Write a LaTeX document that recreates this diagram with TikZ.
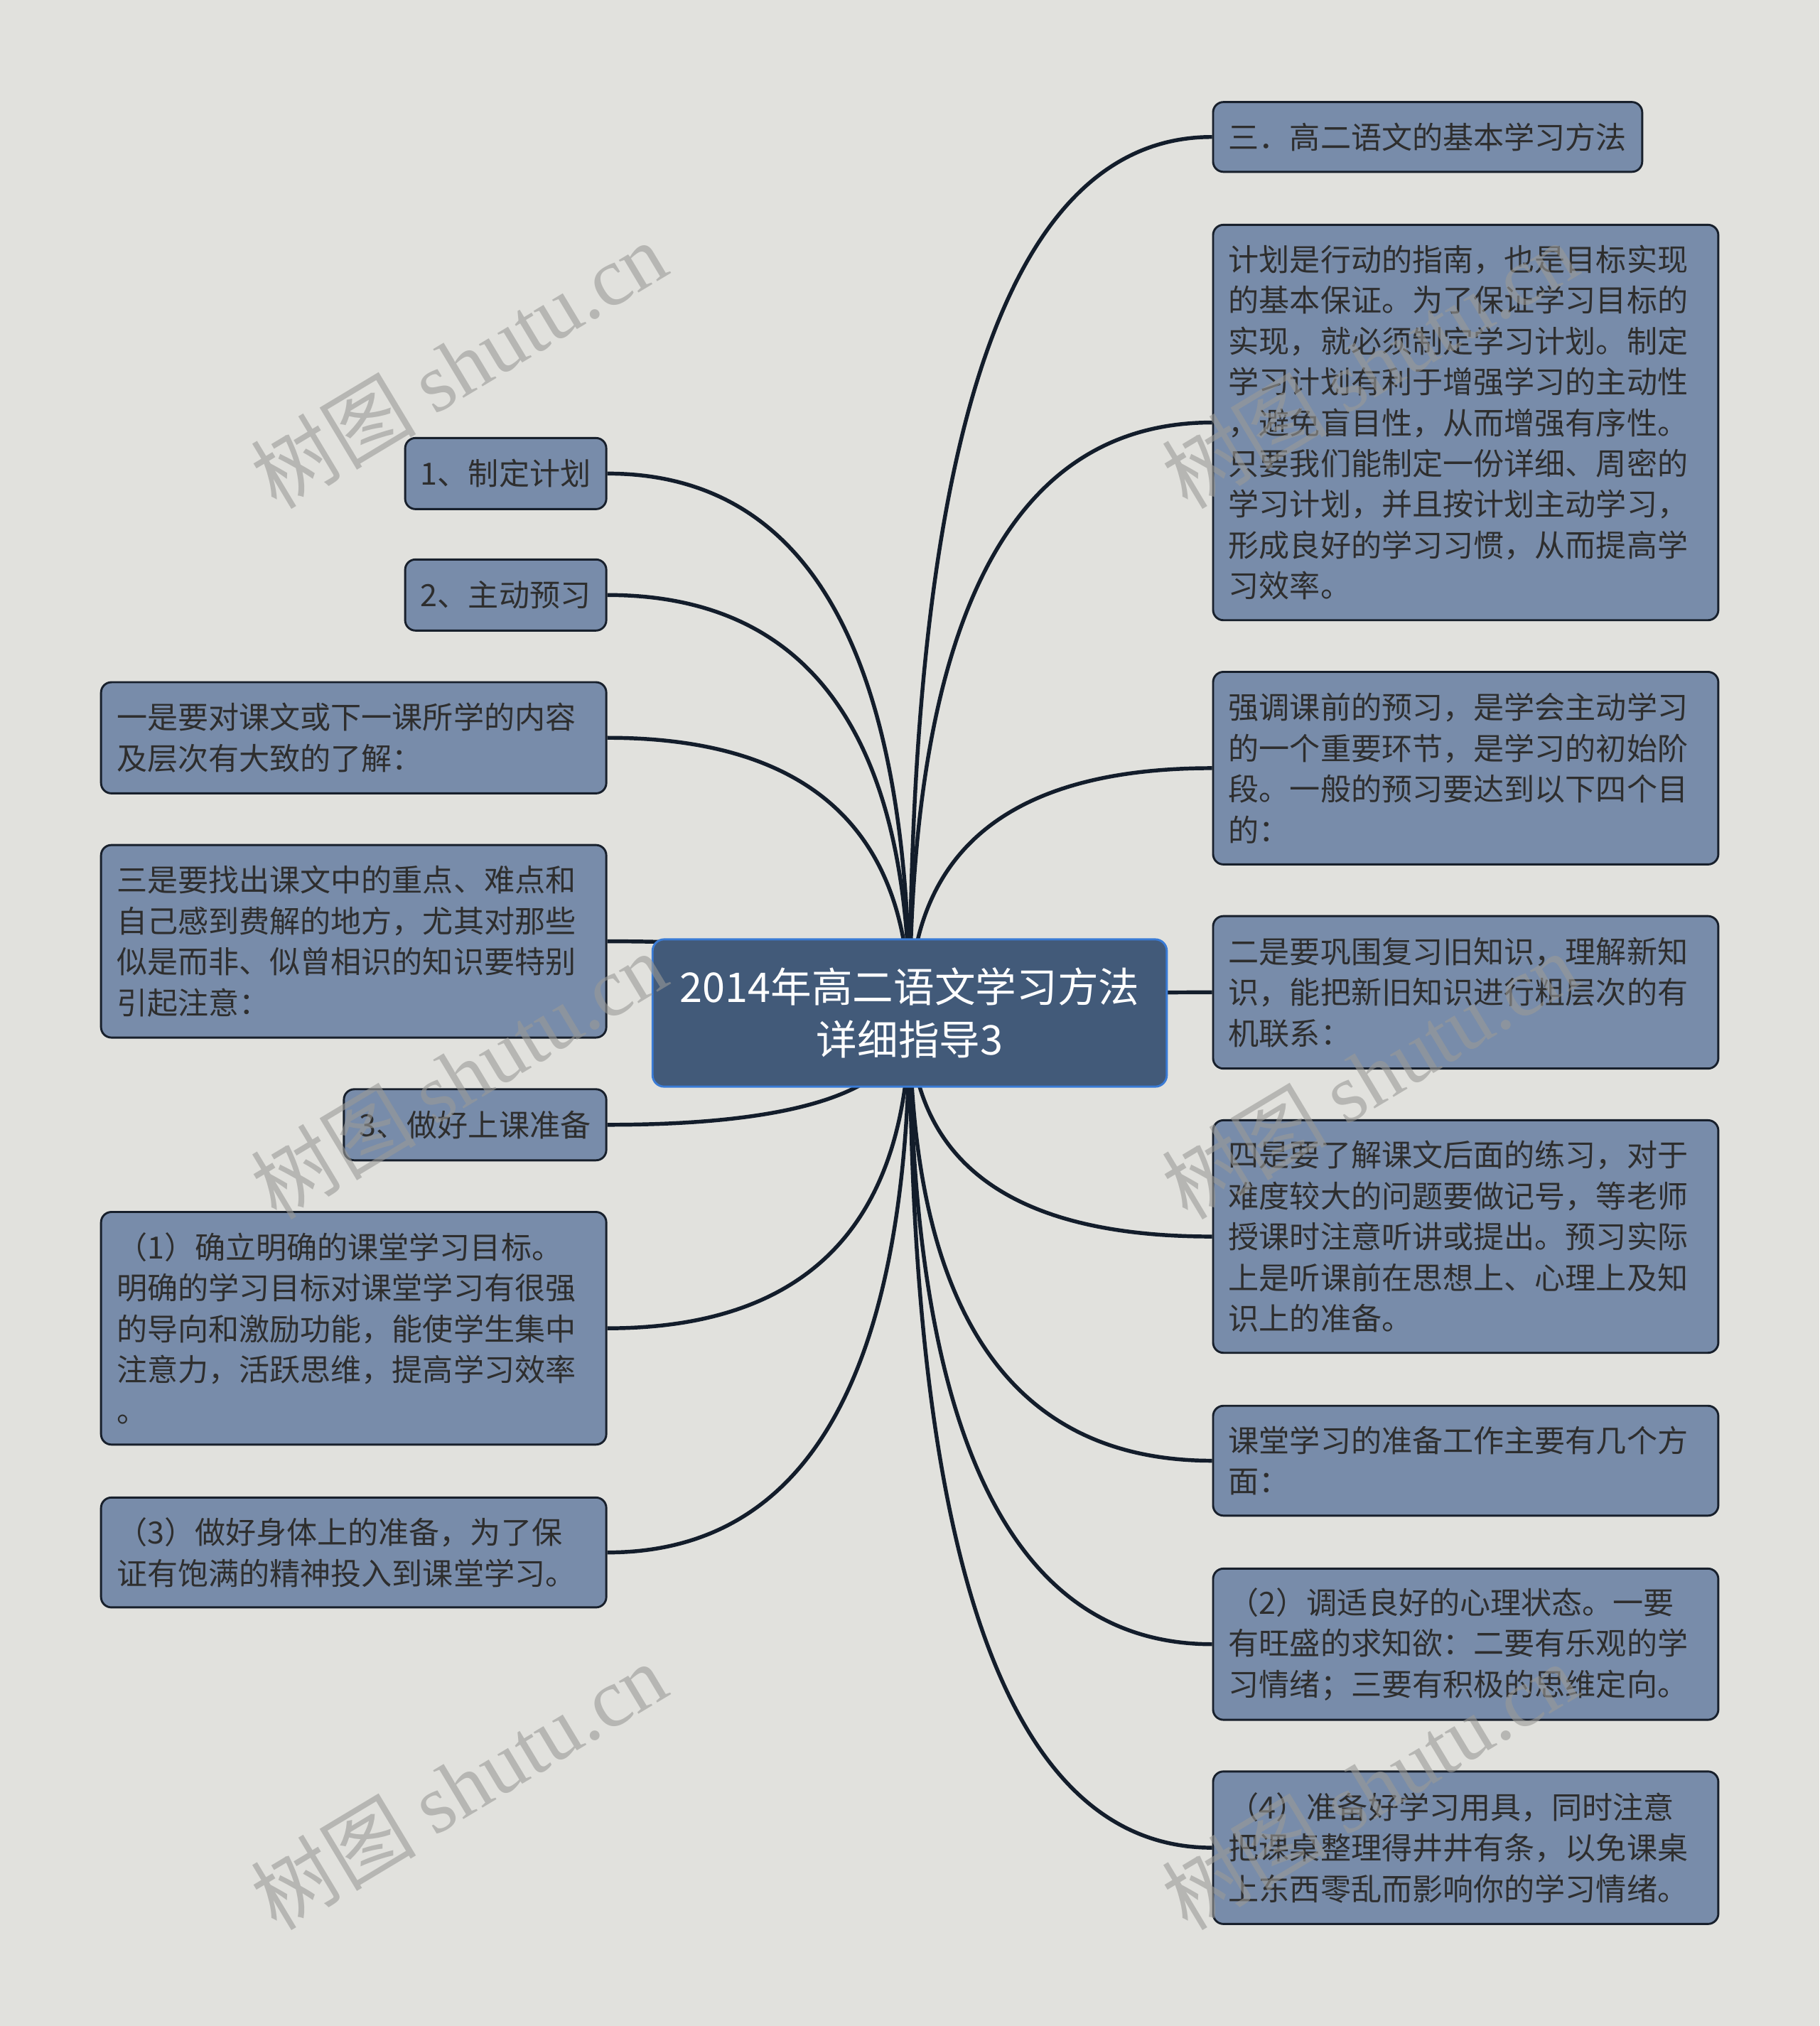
\documentclass[tikz,border=0pt]{standalone}
\usepackage{fontspec}
\setmainfont{Noto Sans CJK SC}
\newfontfamily\wmlatin{Liberation Serif}
\usetikzlibrary{calc}
\definecolor{bgc}{HTML}{E1E1DD}
\definecolor{leaffill}{HTML}{788CAA}
\definecolor{leafdraw}{HTML}{18202C}
\definecolor{leaftext}{HTML}{2E2E2E}
\definecolor{rootfill}{HTML}{425A79}
\definecolor{rootdraw}{HTML}{3A7BD5}
\definecolor{edgec}{HTML}{131D2B}
\definecolor{wmc}{HTML}{9A9A97}
\newcommand\lffont{\fontsize{11.85}{15.8}\selectfont}
\newcommand\rtfont{\fontsize{15.85}{20.5}\selectfont}
\newcommand\wmfont{\fontsize{32}{32}\selectfont}
\pgfdeclarelayer{edges}
\pgfsetlayers{edges,main}
\newcommand\lnk[2]{\draw[edge] (root.center) .. controls ($(root.center)!2/3!(root.center |- #1.#2)$) and ($(#1.#2)!2/3!(root.center |- #1.#2)$) .. (#1.#2);}
\tikzset{
  leaf/.style={rectangle, rounded corners=4pt, fill=leaffill, draw=leafdraw, line width=0.8pt, text=leaftext, font=\lffont, inner xsep=6pt, inner ysep=0pt, align=left},
  wide/.style={leaf, text width=183.5pt},
  rootbox/.style={rectangle, rounded corners=4.5pt, fill=rootfill, draw=rootdraw, line width=0.8pt, text=white, font=\rtfont, align=center, minimum width=199pt, minimum height=57pt, inner sep=0pt},
  edge/.style={draw=edgec, line width=1.5pt},
  wmark/.style={text=wmc, text opacity=0.6, font=\wmfont, rotate=31, inner sep=0pt}
}
\begin{document}
\begin{tikzpicture}[x=0.5pt, y=-0.5pt]
\useasboundingbox (0,0) rectangle (1408,1568);
\begin{pgfonlayer}{edges}
\fill[bgc] (0,0) rectangle (1408,1568);
\end{pgfonlayer}
% root
\node[rootbox] (root) at (704,784) {2014年高二语文学习方法\\详细指导3};
% left
\node[leaf, anchor=east, minimum height=27.5pt] (L1) at (470,366.5) {1、制定计划};
\node[leaf, anchor=east, minimum height=27.5pt] (L2) at (470,460.5) {2、主动预习};
\node[wide, anchor=east, minimum height=43pt] (L3) at (470,571) {一是要对课文或下一课所学的内容\\及层次有大致的了解：};
\node[wide, anchor=east, minimum height=74.5pt] (L4) at (470,728.5) {三是要找出课文中的重点、难点和\\自己感到费解的地方，尤其对那些\\似是而非、似曾相识的知识要特别\\引起注意：};
\node[leaf, anchor=east, minimum height=27.5pt] (L5) at (470,870.5) {3、做好上课准备};
\node[wide, anchor=east, minimum height=90pt] (L6) at (470,1028) {（1）确立明确的课堂学习目标。\\明确的学习目标对课堂学习有很强\\的导向和激励功能，能使学生集中\\注意力，活跃思维，提高学习效率\\。};
\node[wide, anchor=east, minimum height=42.5pt] (L7) at (470,1201.5) {（3）做好身体上的准备，为了保\\证有饱满的精神投入到课堂学习。};
% right
\node[leaf, anchor=west, minimum height=27pt] (R1) at (938,106) {三．高二语文的基本学习方法};
\node[wide, anchor=west, minimum height=153pt] (R2) at (938,327) {计划是行动的指南，也是目标实现\\的基本保证。为了保证学习目标的\\实现，就必须制定学习计划。制定\\学习计划有利于增强学习的主动性\\，避免盲目性，从而增强有序性。\\只要我们能制定一份详细、周密的\\学习计划，并且按计划主动学习，\\形成良好的学习习惯，从而提高学\\习效率。};
\node[wide, anchor=west, minimum height=74.5pt] (R3) at (938,594.5) {强调课前的预习，是学会主动学习\\的一个重要环节，是学习的初始阶\\段。一般的预习要达到以下四个目\\的：};
\node[wide, anchor=west, minimum height=59pt] (R4) at (938,768) {二是要巩围复习旧知识，理解新知\\识，能把新旧知识进行粗层次的有\\机联系：};
\node[wide, anchor=west, minimum height=90pt] (R5) at (938,957) {四是要了解课文后面的练习，对于\\难度较大的问题要做记号，等老师\\授课时注意听讲或提出。预习实际\\上是听课前在思想上、心理上及知\\识上的准备。};
\node[wide, anchor=west, minimum height=42.5pt] (R6) at (938,1130.5) {课堂学习的准备工作主要有几个方\\面：};
\node[wide, anchor=west, minimum height=58.5pt] (R7) at (938,1272.5) {（2）调适良好的心理状态。一要\\有旺盛的求知欲：二要有乐观的学\\习情绪；三要有积极的思维定向。};
\node[wide, anchor=west, minimum height=59pt] (R8) at (938,1430) {（4）准备好学习用具，同时注意\\把课桌整理得井井有条，以免课桌\\上东西零乱而影响你的学习情绪。};
% connectors
\begin{pgfonlayer}{edges}
\lnk{L1}{east}\lnk{L2}{east}\lnk{L3}{east}\lnk{L4}{east}\lnk{L5}{east}\lnk{L6}{east}\lnk{L7}{east}
\lnk{R1}{west}\lnk{R2}{west}\lnk{R3}{west}\lnk{R4}{west}\lnk{R5}{west}\lnk{R6}{west}\lnk{R7}{west}\lnk{R8}{west}
\end{pgfonlayer}
% watermarks
\node[wmark] (w1) at (355,282) {树图 {\wmlatin shutu.cn}};
\node[wmark] (w2) at (355,832) {树图 {\wmlatin shutu.cn}};
\node[wmark] (w3) at (355,1382) {树图 {\wmlatin shutu.cn}};
\node[wmark] (w4) at (1060,282) {树图 {\wmlatin shutu.cn}};
\node[wmark] (w5) at (1060,832) {树图 {\wmlatin shutu.cn}};
\node[wmark] (w6) at (1060,1382) {树图 {\wmlatin shutu.cn}};
\end{tikzpicture}
\end{document}
